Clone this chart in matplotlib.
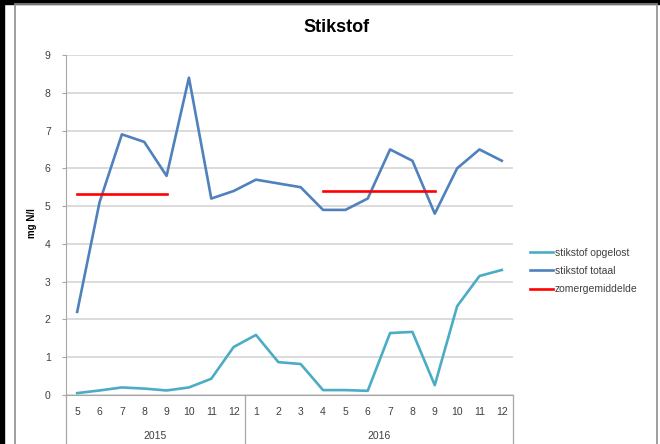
import matplotlib.pyplot as plt
from matplotlib.patches import Rectangle
from matplotlib.lines import Line2D

# Data
months = ['5', '6', '7', '8', '9', '10', '11', '12',
          '1', '2', '3', '4', '5', '6', '7', '8', '9', '10', '11', '12']
years = ['2015', '2016']
year_sizes = [8, 12]

opgelost = [0.05, 0.12, 0.20, 0.17, 0.12, 0.20, 0.43, 1.27, 1.59, 0.87, 0.82,
            0.13, 0.13, 0.11, 1.64, 1.67, 0.26, 2.35, 3.15, 3.31]
totaal = [2.2, 5.1, 6.9, 6.7, 5.8, 8.4, 5.2, 5.4, 5.7, 5.6, 5.5,
          4.9, 4.9, 5.2, 6.5, 6.2, 4.8, 6.0, 6.5, 6.2]
# summer average: (first index, last index, value)
zomer = [(0, 4, 5.33), (11, 16, 5.40)]

W, H = 660, 444
fig = plt.figure(figsize=(W / 100, H / 100), dpi=100)
fig.patch.set_facecolor('white')
plt.rcParams['font.family'] = ['Liberation Sans', 'DejaVu Sans']

# outer frame
fig.patches.append(Rectangle((0, 1 - 4 / H), 1, 4 / H, transform=fig.transFigure,
                             color='black', zorder=0))
fig.patches.append(Rectangle((0, 0), 4 / W, 1, transform=fig.transFigure,
                             color='black', zorder=0))
fig.patches.append(Rectangle((15 / W, -0.05), 642 / W, 1 - 4 / H + 0.05,
                             transform=fig.transFigure, fill=False,
                             edgecolor='#8c8c8c', linewidth=1.2, zorder=0))

ax = fig.add_axes([66 / W, 1 - 395 / H, (513 - 66) / W, 340 / H])
x = list(range(len(months)))

ax.plot(x, opgelost, color='#4BACC6', linewidth=1.9, label='stikstof opgelost', zorder=3)
ax.plot(x, totaal, color='#4F81BD', linewidth=1.9, label='stikstof totaal', zorder=3)
for i, (a, b, v) in enumerate(zomer):
    ax.plot([a, b], [v, v], color='#FF0000', linewidth=1.9,
            label='zomergemiddelde' if i == 0 else None, zorder=4)

ax.set_xlim(-0.5, len(months) - 0.5)
ax.set_ylim(0, 9)
ax.set_yticks(range(0, 10))
ax.yaxis.grid(True, color='#d9d9d9', linewidth=1.3)
ax.set_axisbelow(True)
for s in ['top', 'right']:
    ax.spines[s].set_visible(False)
ax.spines['left'].set_color('#a6a6a6')
ax.spines['bottom'].set_color('#a6a6a6')
ax.tick_params(axis='y', length=3, color='#a6a6a6', labelsize=7.5,
               labelcolor='#404040', pad=8)
ax.set_xticks([])

# two-level category axis
tr = ax.get_xaxis_transform()
for i, m in enumerate(months):
    ax.text(i, -0.05, m, transform=tr, ha='center', va='center',
            fontsize=7.5, color='#404040')
start = 0
bounds = [-0.5]
for yr, n in zip(years, year_sizes):
    ax.text(start + (n - 1) / 2, -0.121, yr, transform=tr, ha='center',
            va='center', fontsize=7.5, color='#404040')
    start += n
    bounds.append(start - 0.5)
for b in bounds:
    ax.add_line(Line2D([b, b], [0, -0.2], transform=tr, color='#a6a6a6',
                       linewidth=0.9, clip_on=False))

ax.set_ylabel('mg N/l', fontsize=7, fontweight='bold', labelpad=10)
ax.yaxis.set_label_coords((37 - 66) / (513 - 66), (395 - 223) / 340)

fig.text(337 / W, 1 - 28 / H, 'Stikstof', ha='center', va='center',
         fontsize=13, fontweight='bold', color='black')

ax.legend(loc='center left', bbox_to_anchor=(530 / W, 1 - 271 / H),
          bbox_transform=fig.transFigure, frameon=False, fontsize=7.5,
          handlelength=2.2, handletextpad=0.2, labelspacing=0.8,
          borderpad=0, borderaxespad=0, labelcolor='#404040')

fig.savefig('out.png', dpi=100)
